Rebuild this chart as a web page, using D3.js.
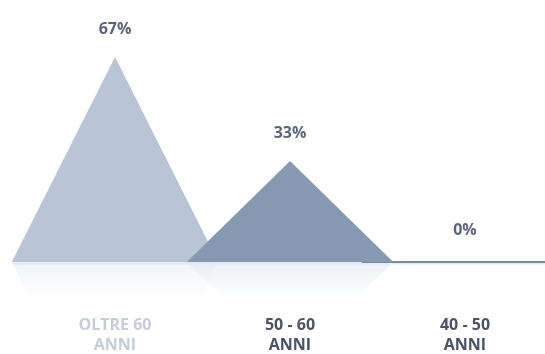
<!DOCTYPE html>
<html>
<head>
<meta charset="utf-8">
<script src="https://cdn.jsdelivr.net/npm/d3@7"></script>
<style>
  html, body { margin: 0; padding: 0; background: #fff; }
  svg { display: block; }
</style>
</head>
<body>
<svg id="chart"></svg>
<script>
// chart data
const categories = ["OLTRE 60", "50 - 60", "40 - 50"];
const subLabels = ["ANNI", "ANNI", "ANNI"];
const values = [67, 33, 0];
const valueLabels = ["67%", "33%", "0%"];

const width = 545;
const height = 354;
const baseY = 262;

const svg = d3.select("#chart")
  .attr("width", width)
  .attr("height", height);

const x = d3.scalePoint()
  .domain(categories)
  .range([115, 465]);

const y = d3.scaleLinear()
  .domain([0, 67])
  .range([baseY, 57]);

const halfW = x.step() * 0.59;

const fills = ["#b9c4d4", "#8798b1", "#7b8aa3"];
const labelFills = ["#c6ccd6", "#4b5365", "#4b5365"];

const data = categories.map((c, i) => ({ cat: c, sub: subLabels[i], value: values[i], label: valueLabels[i], i }));

// reflection gradient (fades downward)
const defs = svg.append("defs");
const grad = defs.append("linearGradient")
  .attr("id", "fade")
  .attr("x1", 0).attr("y1", 0).attr("x2", 0).attr("y2", 1);
grad.append("stop").attr("offset", "0%").attr("stop-color", "#fff").attr("stop-opacity", 0.7);
grad.append("stop").attr("offset", "100%").attr("stop-color", "#fff").attr("stop-opacity", 0);
defs.append("mask").attr("id", "reflMask")
  .append("rect")
  .attr("x", 0).attr("y", baseY).attr("width", width).attr("height", 36)
  .attr("fill", "url(#fade)");

const tri = (d, flip) => {
  const cx = x(d.cat);
  const top = flip ? baseY + (baseY - y(d.value)) : y(d.value);
  return `M${cx - halfW},${baseY} L${cx},${top} L${cx + halfW},${baseY} Z`;
};

// draw order: flat one first, then light, then dark on top
const order = [2, 0, 1];

// reflection
svg.append("g")
  .attr("mask", "url(#reflMask)")
  .selectAll("path")
  .data(order.map(i => data[i]))
  .join("path")
  .attr("d", d => tri(d, true))
  .attr("fill", d => d.i === 0 ? "#dfe5ee" : "#d3dae6")
  .attr("opacity", 0.6);

// faint light line under the baseline
svg.append("line")
  .attr("x1", x(categories[0]) - halfW)
  .attr("x2", width)
  .attr("y1", baseY + 1.5)
  .attr("y2", baseY + 1.5)
  .attr("stroke", "#e2e9f4")
  .attr("stroke-width", 2);

// triangles
svg.append("g")
  .selectAll("path")
  .data(order.map(i => data[i]))
  .join("path")
  .attr("d", d => tri(d, false))
  .attr("fill", d => fills[d.i])
  .attr("stroke", d => d.value === 0 ? fills[d.i] : "none")
  .attr("stroke-width", 2);

const font = "'Open Sans', Lato, sans-serif";

// value labels
svg.append("g")
  .selectAll("text")
  .data(data)
  .join("text")
  .attr("x", d => x(d.cat))
  .attr("y", d => y(d.value) - (d.value === 0 ? 27 : 23))
  .attr("text-anchor", "middle")
  .style("font-family", font)
  .style("font-size", "16px")
  .style("font-weight", 700)
  .style("fill", "#5c6577")
  .text(d => d.label);

// category labels
const cat = svg.append("g")
  .selectAll("text")
  .data(data)
  .join("text")
  .attr("x", d => x(d.cat))
  .attr("text-anchor", "middle")
  .style("font-family", font)
  .style("font-size", "16px")
  .style("font-weight", 700)
  .style("fill", d => labelFills[d.i]);

cat.append("tspan").attr("x", d => x(d.cat)).attr("y", 330).text(d => d.cat);
cat.append("tspan").attr("x", d => x(d.cat)).attr("y", 350).text(d => d.sub);
</script>
</body>
</html>
